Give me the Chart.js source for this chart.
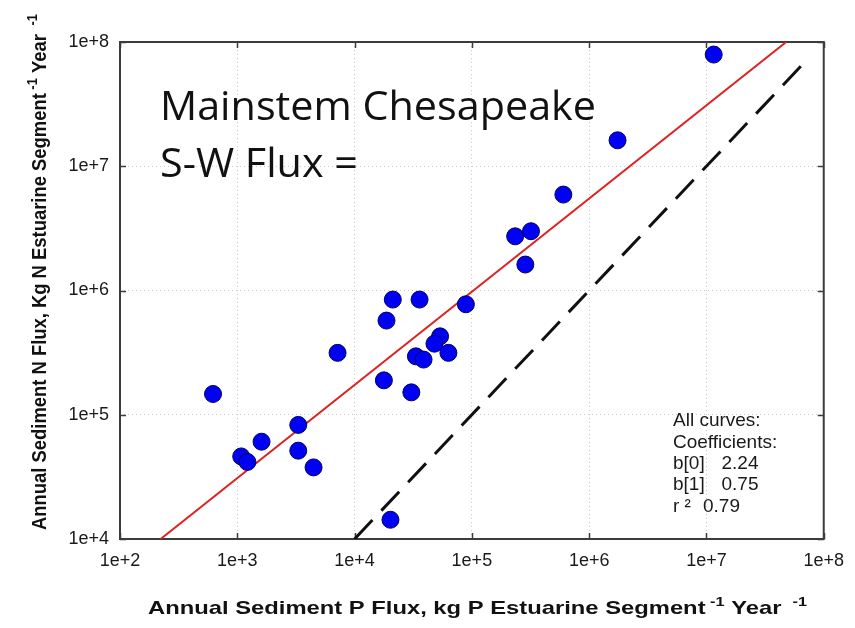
<!DOCTYPE html>
<html>
<head>
<meta charset="utf-8">
<script src="https://cdn.jsdelivr.net/npm/chart.js@4.4.1/dist/chart.umd.min.js"></script>
<style>
  html, body { margin: 0; padding: 0; background: #ffffff; }
  #wrap { width: 855px; height: 628px; position: relative; }
</style>
</head>
<body>
<div id="wrap"><canvas id="chart" width="855" height="628"></canvas></div>
<script>
// Annual sediment P flux per estuarine segment (kg P / segment / yr)
const pFlux = [
  621, 1080, 1220, 1610, 3310, 3310, 4470, 7160,
  17780, 18710, 21180, 20230, 30480, 35810, 33340, 38730,
  53580, 47970, 63100, 88920,
  11530000, 1746000, 602600, 233900, 319200, 285800
];
// Annual sediment N flux per estuarine segment (kg N / segment / yr)
const nFlux = [
  146900, 46200, 41700, 60700, 82800, 51400, 37700, 314800,
  189200, 572800, 845300, 14290, 151400, 845300, 295100, 278000,
  427600, 373300, 314800, 774500,
  79250000, 16180000, 5916000, 2729000, 2999000, 1618000
];
// Log-log fit: log10(N) = b0 + b1 * log10(P)
const fitCoefficients = [2.24, 0.75];
const fitRSquared = 0.79;
// 1:1 reference line extent (kg/yr)
const oneToOneRange = [1e4, 7e7];

const xTickValues = [1e2, 1e3, 1e4, 1e5, 1e6, 1e7, 1e8];
const yTickValues = [1e4, 1e5, 1e6, 1e7, 1e8];

const xTitleParts = [
  { text: 'Annual Sediment P Flux, kg P Estuarine Segment' },
  { text: ' -1', sup: true },
  { text: ' Year ' },
  { text: ' -1', sup: true }
];
const yTitleParts = [
  { text: 'Annual Sediment N Flux, Kg N Estuarine Segment' },
  { text: ' -1', sup: true },
  { text: ' Year ' },
  { text: ' -1', sup: true }
];
const noteLines = ['Mainstem Chesapeake', 'S-W Flux ='];

const points = pFlux.map((p, i) => ({ x: p, y: nFlux[i] }));

const [b0, b1] = fitCoefficients;
const yMin = yTickValues[0], yMax = yTickValues[yTickValues.length - 1];
const fitLine = [yMin, yMax].map(n => ({ x: Math.pow(10, (Math.log10(n) - b0) / b1), y: n }));
const unityLine = oneToOneRange.map(v => ({ x: v, y: v }));

const SANS = "'Liberation Sans', Arial, Helvetica, sans-serif";

function richWidth(ctx, parts, mainFont, supFont) {
  let w = 0;
  for (const p of parts) {
    ctx.font = p.sup ? supFont : mainFont;
    w += ctx.measureText(p.text).width;
  }
  return w;
}
function drawRich(ctx, parts, mainFont, supFont, rise) {
  let x = 0;
  for (const p of parts) {
    ctx.font = p.sup ? supFont : mainFont;
    ctx.fillText(p.text, x, p.sup ? -rise : 0);
    x += ctx.measureText(p.text).width;
  }
}

const decorations = {
  id: 'decorations',
  beforeDatasetsDraw(chart) {
    const { ctx, chartArea: a, scales } = chart;
    ctx.save();
    // plot frame
    ctx.strokeStyle = '#3c3c3c';
    ctx.lineWidth = 2;
    ctx.strokeRect(a.left, a.top, a.right - a.left, a.bottom - a.top);
    // inward tick marks on all four sides
    const tl = 6;
    ctx.beginPath();
    xTickValues.forEach(v => {
      const px = Math.round(scales.x.getPixelForValue(v)) + 0.5;
      ctx.moveTo(px, a.bottom); ctx.lineTo(px, a.bottom - tl);
      ctx.moveTo(px, a.top); ctx.lineTo(px, a.top + tl);
    });
    yTickValues.forEach(v => {
      const py = Math.round(scales.y.getPixelForValue(v)) + 0.5;
      ctx.moveTo(a.left, py); ctx.lineTo(a.left + tl, py);
      ctx.moveTo(a.right, py); ctx.lineTo(a.right - tl, py);
    });
    ctx.lineWidth = 1.5;
    ctx.stroke();
    ctx.restore();
  },
  afterDraw(chart) {
    const { ctx } = chart;
    ctx.save();
    ctx.fillStyle = '#111111';
    ctx.textAlign = 'left';
    ctx.textBaseline = 'alphabetic';

    // x-axis title
    {
      const mf = 'bold 19px ' + SANS, sf = 'bold 13px ' + SANS;
      const w = richWidth(ctx, xTitleParts, mf, sf);
      ctx.save();
      ctx.translate(148, 614);
      ctx.scale(659 / w, 1);
      drawRich(ctx, xTitleParts, mf, sf, 8);
      ctx.restore();
    }
    // y-axis title
    {
      const mf = 'bold 20px ' + SANS, sf = 'bold 14px ' + SANS;
      const w = richWidth(ctx, yTitleParts, mf, sf);
      ctx.save();
      ctx.translate(46, 530);
      ctx.rotate(-Math.PI / 2);
      ctx.scale(516 / w, 1);
      drawRich(ctx, yTitleParts, mf, sf, 9);
      ctx.restore();
    }
    // large note
    {
      ctx.font = "40px 'Open Sans', 'Noto Sans', sans-serif";
      const w = ctx.measureText(noteLines[0]).width;
      const k = 436 / w;
      ctx.save();
      ctx.translate(160, 119.5);
      ctx.scale(k, 1);
      ctx.fillText(noteLines[0], 0, 0);
      ctx.fillText(noteLines[1], 0, 57);
      ctx.restore();
    }
    // fit coefficients
    {
      ctx.font = '19px ' + SANS;
      ctx.fillStyle = '#1a1a1a';
      const x0 = 673;
      ctx.fillText('All curves:', x0, 426);
      ctx.fillText('Coefficients:', x0, 447.5);
      ctx.fillText('b[0]', x0, 469);
      ctx.fillText(b0.toFixed(2), 721.5, 469);
      ctx.fillText('b[1]', x0, 490);
      ctx.fillText(b1.toFixed(2), 721.5, 490);
      ctx.fillText('r \u00B2', x0, 511.5);
      ctx.fillText(fitRSquared.toFixed(2), 703, 511.5);
    }
    ctx.restore();
  }
};

const tickLabel = v => '1e+' + Math.round(Math.log10(v));

new Chart(document.getElementById('chart'), {
  type: 'scatter',
  data: {
    datasets: [
      {
        data: points,
        pointRadius: 8.5,
        pointHoverRadius: 8.5,
        backgroundColor: '#0000f5',
        borderColor: '#00005a',
        borderWidth: 1,
        order: 0
      },
      {
        data: fitLine,
        showLine: true,
        pointRadius: 0,
        borderColor: '#dd2222',
        borderWidth: 2,
        order: 1
      },
      {
        data: unityLine,
        showLine: true,
        pointRadius: 0,
        borderColor: '#111111',
        borderWidth: 3,
        borderDash: [26, 13],
        order: 2
      }
    ]
  },
  options: {
    responsive: false,
    animation: false,
    events: [],
    layout: { padding: { top: 42, right: 25, left: 0, bottom: 0 } },
    plugins: { legend: { display: false }, tooltip: { enabled: false } },
    scales: {
      x: {
        type: 'logarithmic',
        min: xTickValues[0],
        max: xTickValues[xTickValues.length - 1],
        afterBuildTicks: s => { s.ticks = xTickValues.map(v => ({ value: v })); },
        afterFit: s => { s.height = 89; },
        ticks: {
          autoSkip: false, maxRotation: 0, minRotation: 0, padding: 11,
          color: '#1a1a1a', font: { family: SANS, size: 18 },
          callback: tickLabel
        },
        grid: { color: '#c8c8c8', lineWidth: 1, drawTicks: false },
        border: { display: false, dash: [1, 3] }
      },
      y: {
        type: 'logarithmic',
        min: yMin,
        max: yMax,
        afterBuildTicks: s => { s.ticks = yTickValues.map(v => ({ value: v })); },
        afterFit: s => { s.width = 120; },
        ticks: {
          autoSkip: false, padding: 11,
          color: '#1a1a1a', font: { family: SANS, size: 18 },
          callback: tickLabel
        },
        grid: { color: '#c8c8c8', lineWidth: 1, drawTicks: false },
        border: { display: false, dash: [1, 3] }
      }
    }
  },
  plugins: [decorations]
});
</script>
</body>
</html>
